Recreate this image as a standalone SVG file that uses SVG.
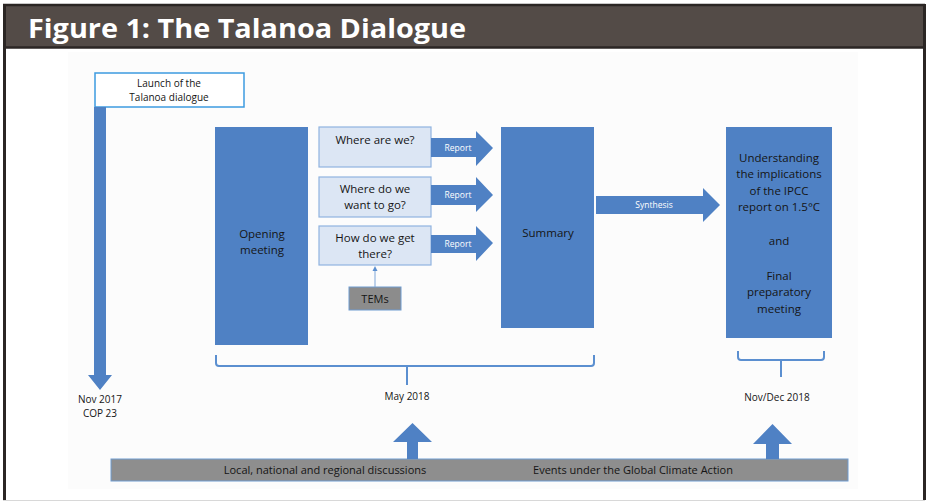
<svg xmlns="http://www.w3.org/2000/svg" width="927" height="502" viewBox="0 0 927 502">
<style>
.blk{fill:#4f81c4}
.q{fill:#dce6f4;stroke:#8fb3df;stroke-width:1.2}
.t{font-family:"Open Sans","Liberation Sans",sans-serif;fill:#151515;text-anchor:middle}
.w{font-family:"Open Sans","Liberation Sans",sans-serif;fill:#ffffff;text-anchor:middle;font-size:8.5px}
.br{fill:none;stroke:#5b8fd0;stroke-width:2}
</style>
<rect x="0" y="0" width="927" height="502" fill="#ffffff"/>
<rect x="68" y="52" width="790" height="437" fill="#fcfcfc"/>
<!-- frame -->
<rect x="3" y="4" width="922" height="44" fill="#534b47"/>
<line x1="3" y1="5" x2="925" y2="5" stroke="#2b2624" stroke-width="2.5"/>
<line x1="3" y1="47.5" x2="925" y2="47.5" stroke="#2b2624" stroke-width="2.5"/>
<line x1="4.5" y1="4" x2="4.5" y2="500" stroke="#2b2624" stroke-width="3"/>
<line x1="924.5" y1="4" x2="924.5" y2="500" stroke="#2b2624" stroke-width="3"/>
<line x1="3" y1="500.5" x2="925" y2="500.5" stroke="#d8d8d8" stroke-width="1"/>
<text x="28" y="38" font-family="'Open Sans','Noto Sans',sans-serif" font-weight="bold" font-size="27" fill="#ffffff" textLength="438" lengthAdjust="spacingAndGlyphs">Figure 1: The Talanoa  Dialogue</text>

<g id="launch">
<rect x="95" y="73" width="149" height="34" fill="#ffffff" stroke="#3c9be0" stroke-width="1.5"/>
<text class="t" font-size="10" x="169" y="87">Launch of the</text>
<text class="t" font-size="10" x="169" y="101">Talanoa dialogue</text>
</g>

<g id="opening">
<rect class="blk" x="215" y="127" width="93" height="218"/>
<text class="t" font-size="11.5" x="262" y="238">Opening</text>
<text class="t" font-size="11.5" x="262" y="254">meeting</text>
</g>

<g id="q1">
<rect class="q" x="319" y="127" width="112" height="40"/>
<text class="t" font-size="11.5" x="375" y="144">Where are we?</text>
</g>
<g id="q2">
<rect class="q" x="319" y="177" width="112" height="40"/>
<text class="t" font-size="11.5" x="375" y="193">Where do we</text>
<text class="t" font-size="11.5" x="375" y="209">want to go?</text>
</g>
<g id="q3">
<rect class="q" x="319" y="226" width="112" height="39"/>
<text class="t" font-size="11.5" x="375" y="242">How do we get</text>
<text class="t" font-size="11.5" x="375" y="258">there?</text>
</g>

<g id="tems">
<rect x="349" y="287" width="52" height="23" fill="#8c8c8c" stroke="#6f9bd0" stroke-width="1"/>
<text class="t" font-size="11" x="375" y="303">TEMs</text>
</g>

<g id="summary">
<rect class="blk" x="501" y="127" width="93" height="201"/>
<text class="t" font-size="11.5" x="548" y="237">Summary</text>
</g>

<g id="final">
<rect class="blk" x="726" y="127" width="106" height="211"/>
<text class="t" font-size="11.5" x="779" y="162">Understanding</text>
<text class="t" font-size="11.5" x="779" y="178">the implications</text>
<text class="t" font-size="11.5" x="779" y="195">of the IPCC</text>
<text class="t" font-size="11.5" x="779" y="211">report on 1.5°C</text>
<text class="t" font-size="11.5" x="779" y="245">and</text>
<text class="t" font-size="11.5" x="779" y="280">Final</text>
<text class="t" font-size="11.5" x="779" y="296">preparatory</text>
<text class="t" font-size="11.5" x="779" y="313">meeting</text>
</g>

<g id="bar">
<rect x="111" y="459" width="737" height="22" fill="#8e8e8e" stroke="#6f9bd0" stroke-width="1"/>
<text class="t" font-size="11" x="325" y="474">Local, national and regional discussions</text>
<text class="t" font-size="11" x="633" y="474">Events under the Global Climate Action</text>
</g>

<g id="labels">
<text class="t" font-size="10" x="100" y="403">Nov 2017</text>
<text class="t" font-size="10" x="100" y="417">COP 23</text>
<text class="t" font-size="10" x="407" y="400">May 2018</text>
<text class="t" font-size="10" x="777" y="401">Nov/Dec 2018</text>
</g>

<g id="connectors">
<polygon class="blk" points="94,107 106,107 106,375 112,375 100,390 88,375 94,375"/>
<polygon class="blk" points="431,138 476,138 476,131 493,148 476,166 476,157 431,157"/>
<text class="w" x="458" y="151">Report</text>
<polygon class="blk" points="431,185 476,185 476,177 493,195 476,212 476,205 431,205"/>
<text class="w" x="458" y="198">Report</text>
<polygon class="blk" points="431,235 476,235 476,226 493,243 476,261 476,253 431,253"/>
<text class="w" x="458" y="247">Report</text>
<polygon class="blk" points="596,196 703,196 703,188 720,205 703,222 703,214 596,214"/>
<text class="w" x="654" y="208">Synthesis</text>
<line x1="375" y1="287" x2="375" y2="270" stroke="#7ea6d8" stroke-width="1"/>
<polygon points="372.5,271 377.5,271 375,266" fill="#5b8fd0"/>
<path class="br" d="M216,355 V363 Q216,366 219,366 H591 Q594,366 594,363 V355 M407,366 V385"/>
<path class="br" d="M738,351 V357 Q738,360 741,360 H821 Q824,360 824,357 V351 M781,360 V377"/>
<polygon class="blk" points="407,459 407,442 393,442 412.5,423 432,442 418,442 418,459"/>
<polygon class="blk" points="766,459 766,444 753,444 772.5,424 792,444 779,444 779,459"/>
</g>
</svg>
